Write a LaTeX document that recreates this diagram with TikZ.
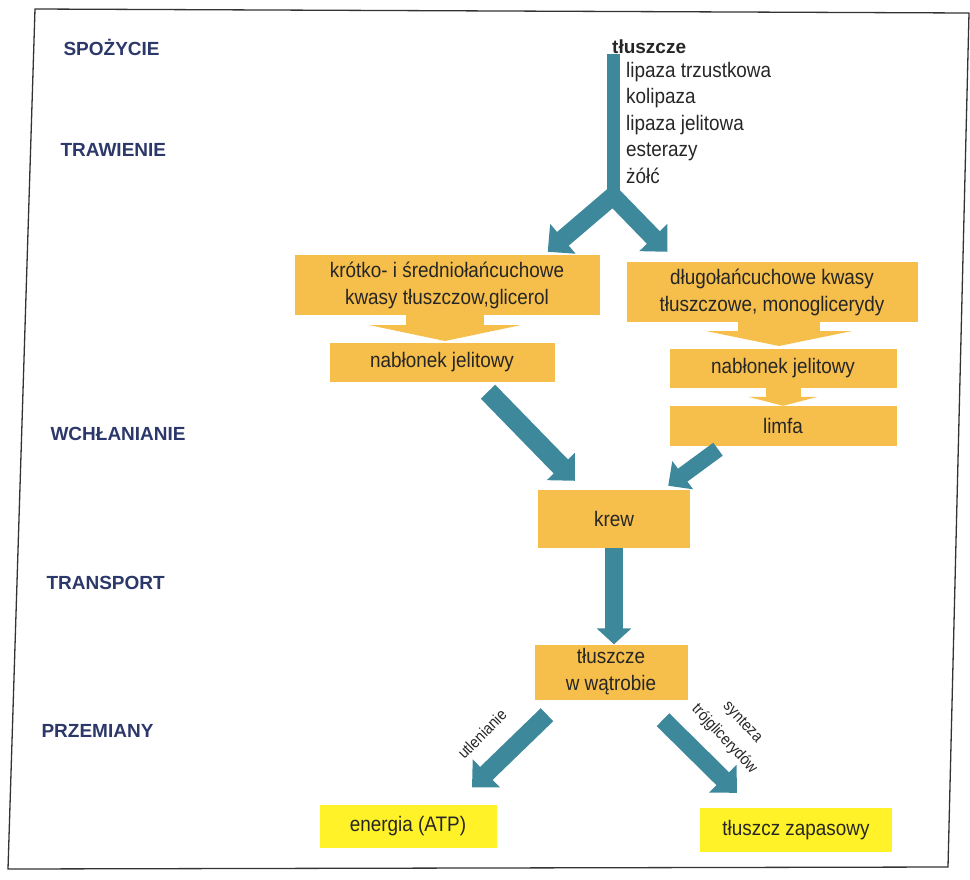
\documentclass[tikz,border=0pt]{standalone}
\usepackage{fontspec}
\setmainfont{Liberation Sans}
\newfontfamily\narrowsans[FakeStretch=0.9]{Liberation Sans}
\usetikzlibrary{arrows.meta}

\definecolor{boxorange}{RGB}{246,190,74}
\definecolor{goalyellow}{RGB}{255,242,40}
\definecolor{tealarr}{RGB}{62,136,156}
\definecolor{stagenavy}{RGB}{44,56,106}
\definecolor{txtgray}{RGB}{38,38,38}

\begin{document}
\begin{tikzpicture}[
  x=1pt, y=-1pt,
  box/.style   = {fill=boxorange, text=txtgray, font=\narrowsans\fontsize{21}{27}\selectfont, align=center, inner sep=0pt},
  goal/.style  = {box, fill=goalyellow},
  stage/.style = {anchor=west, text=stagenavy, font=\fontsize{19}{23}\selectfont\bfseries},
  side/.style  = {text=txtgray, font=\narrowsans\fontsize{16}{25}\selectfont, align=center},
  tarr/.style  = {draw=tealarr, line width=18pt, -{Triangle[width=38pt,length=20pt]}},
  oarr/.style  = {draw=boxorange, line width=78pt, -{Triangle[width=152pt,length=16pt]}}
]
\useasboundingbox (0,0) rectangle (970,879);

% frame (scanned page, slightly tilted)
\draw[line width=1.3pt, black!80] (35,9) -- (969,13) -- (948,867) -- (8,869) -- cycle;

% stages on the left
\node[stage] (spoz)  at (60,47)  {SPOŻYCIE};
\node[stage] (traw)  at (57,150) {TRAWIENIE};
\node[stage] (wchl)  at (47,434) {WCHŁANIANIE};
\node[stage] (trans) at (43,583) {TRANSPORT};
\node[stage] (przem) at (38,731) {PRZEMIANY};

% digestion
\node[anchor=west, text=txtgray, font=\fontsize{19}{23}\selectfont\bfseries, inner sep=0pt] (tl) at (612,47) {tłuszcze};
\node[anchor=north west, text=txtgray, font=\narrowsans\fontsize{21}{26.5}\selectfont, align=left, inner sep=0pt] (enz) at (626,62)
  {lipaza trzustkowa\\kolipaza\\lipaza jelitowa\\esterazy\\żółć};
\coordinate (split) at (613,196);

% products
\node[box, minimum width=305pt, minimum height=60pt] (A) at (447,285) {krótko- i średniołańcuchowe\\kwasy tłuszczow,glicerol};
\node[box, minimum width=291pt, minimum height=60pt] (B) at (772,292) {długołańcuchowe kwasy\\tłuszczowe, monoglicerydy};
\node[box, minimum width=225pt, minimum height=39pt] (C) at (442,362) {nabłonek jelitowy};
\node[box, minimum width=227pt, minimum height=39pt] (D) at (783,368) {nabłonek jelitowy};
\node[box, minimum width=227pt, minimum height=40pt] (E) at (783,426) {limfa};
\node[box, minimum width=152pt, minimum height=58pt] (F) at (614,519) {krew};
\node[box, minimum width=153pt, minimum height=55pt] (G) at (611,672) {tłuszcze\\w wątrobie};
\node[goal, minimum width=177pt, minimum height=43pt] (H) at (408,826) {energia (ATP)};
\node[goal, minimum width=192pt, minimum height=44pt] (I) at (796,830) {tłuszcz zapasowy};

% orange block arrows
\draw[oarr] (445,315) -- (445,341);
\draw[oarr, line width=82pt, -{Triangle[width=146pt,length=15pt]}] (779,322) -- (779,346);
\draw[oarr, line width=35pt, -{Triangle[width=69pt,length=9pt]}] (D.south) -- (E.north);

% teal arrows
\draw[draw=tealarr, line width=13pt] (tl.south west -| split) -- (split);
\draw[tarr] (split) -- ([shift={(-52,-3)}]A.north east);
\draw[tarr] (split) -- ([shift={(41,-10)}]B.north west);
\draw[tarr, line width=20pt] ([shift={(46,10)}]C.south) -- ([shift={(37,-9)}]F.north west);
\draw[tarr, line width=16pt, -{Triangle[width=34pt,length=18pt]}] ([shift={(-65,3)}]E.south) -- ([shift={(-22,-4)}]F.north east);
\draw[tarr, -{Triangle[width=34pt,length=16pt]}] (F.south) -- (F.south |- G.north);
\draw[tarr] ([shift={(-64,15)}]G.south) -- ([shift={(64,-17)}]H.north);
\draw[tarr] ([shift={(52,20)}]G.south) -- ([shift={(-59,-15)}]I.north);

% process labels
\node[side, rotate=45]  (utl) at (482,734) {utlenianie};
\node[side, rotate=-47] (syn) at (733,731) {synteza\\trójglicerydów};
\end{tikzpicture}
\end{document}
